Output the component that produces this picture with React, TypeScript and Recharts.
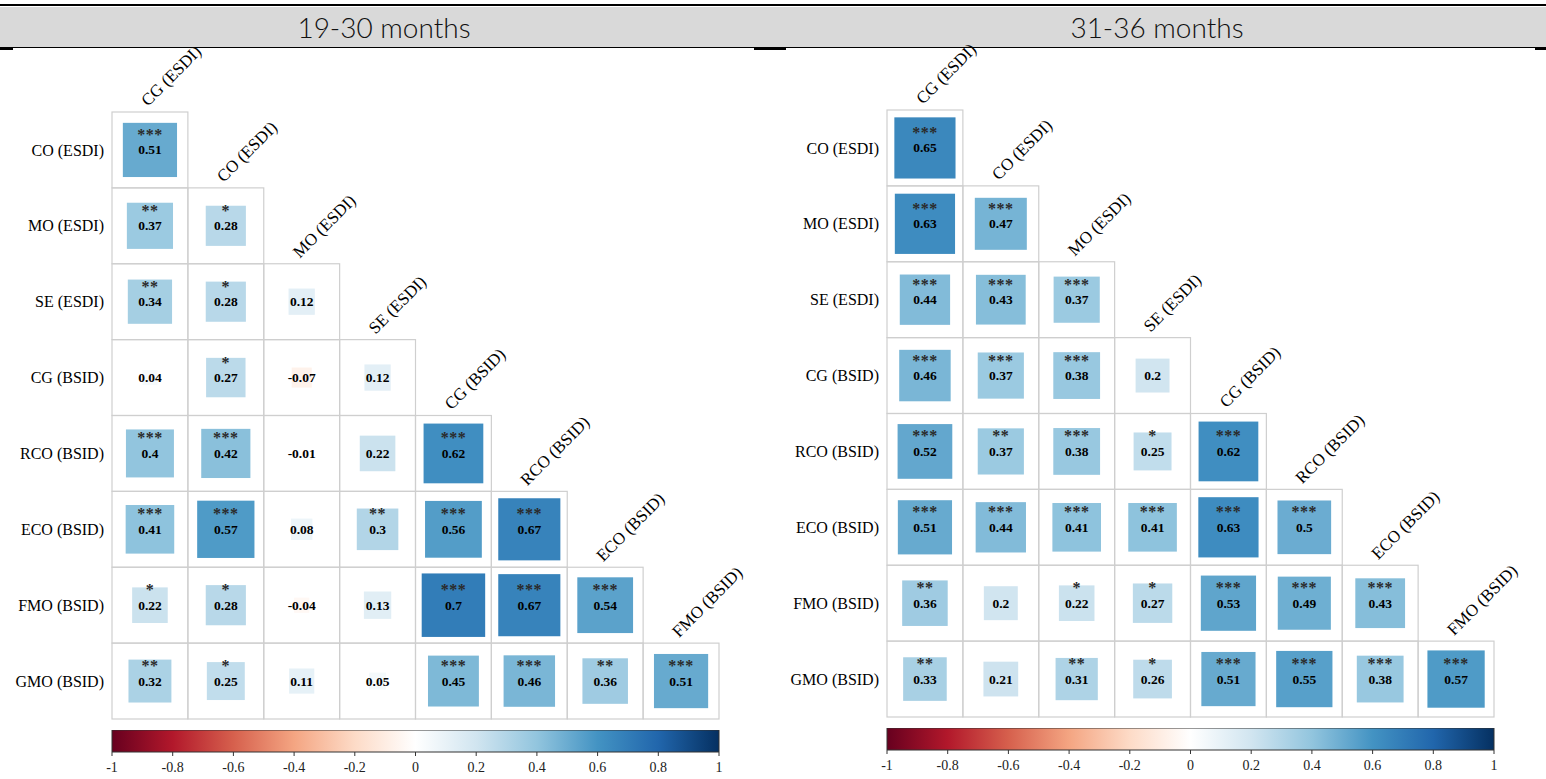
import React from 'react';
import { ScatterChart, Scatter, XAxis, YAxis, BarChart, Bar } from 'recharts';

const ROW_LABELS = ['CO (ESDI)', 'MO (ESDI)', 'SE (ESDI)', 'CG (BSID)', 'RCO (BSID)', 'ECO (BSID)', 'FMO (BSID)', 'GMO (BSID)'];
const COL_LABELS = ['CG (ESDI)', 'CO (ESDI)', 'MO (ESDI)', 'SE (ESDI)', 'CG (BSID)', 'RCO (BSID)', 'ECO (BSID)', 'FMO (BSID)'];
const GRID_TICKS = [0, 1, 2, 3, 4, 5, 6, 7];

// lower triangle, one row per ROW_LABELS entry
const R_19_30 = [
  [0.51],
  [0.37, 0.28],
  [0.34, 0.28, 0.12],
  [0.04, 0.27, -0.07, 0.12],
  [0.4, 0.42, -0.01, 0.22, 0.62],
  [0.41, 0.57, 0.08, 0.3, 0.56, 0.67],
  [0.22, 0.28, -0.04, 0.13, 0.7, 0.67, 0.54],
  [0.32, 0.25, 0.11, 0.05, 0.45, 0.46, 0.36, 0.51],
];
const SIG_19_30 = [
  [3],
  [2, 1],
  [2, 1, 0],
  [0, 1, 0, 0],
  [3, 3, 0, 0, 3],
  [3, 3, 0, 2, 3, 3],
  [1, 1, 0, 0, 3, 3, 3],
  [2, 1, 0, 0, 3, 3, 2, 3],
];

const R_31_36 = [
  [0.65],
  [0.63, 0.47],
  [0.44, 0.43, 0.37],
  [0.46, 0.37, 0.38, 0.2],
  [0.52, 0.37, 0.38, 0.25, 0.62],
  [0.51, 0.44, 0.41, 0.41, 0.63, 0.5],
  [0.36, 0.2, 0.22, 0.27, 0.53, 0.49, 0.43],
  [0.33, 0.21, 0.31, 0.26, 0.51, 0.55, 0.38, 0.57],
];
const SIG_31_36 = [
  [3],
  [3, 3],
  [3, 3, 3],
  [3, 3, 3, 0],
  [3, 2, 3, 1, 3],
  [3, 3, 3, 3, 3, 3],
  [2, 0, 1, 1, 3, 3, 3],
  [2, 0, 2, 1, 3, 3, 3, 3],
];

const CB_TICKS = [-1, -0.8, -0.6, -0.4, -0.2, 0, 0.2, 0.4, 0.6, 0.8, 1];
const CB_DATA = [{ name: 'scale', range: [-1, 1] }];

const PALETTE = ['#67001F', '#B2182B', '#D6604D', '#F4A582', '#FDDBC7', '#FFFFFF', '#D1E5F0', '#92C5DE', '#4393C3', '#2166AC', '#053061'];

const PLOT = 607;
const CELL = PLOT / 8;
const SERIF = '"Liberation Serif", "Times New Roman", serif';

const hexRgb = (h: string) => [1, 3, 5].map((i) => parseInt(h.slice(i, i + 2), 16));

function corrColor(v: number) {
  const p = ((v + 1) / 2) * (PALETTE.length - 1);
  const i = Math.min(Math.floor(p), PALETTE.length - 2);
  const t = p - i;
  const a = hexRgb(PALETTE[i]);
  const b = hexRgb(PALETTE[i + 1]);
  return `rgb(${a.map((c, k) => Math.round(c + (b[k] - c) * t)).join(',')})`;
}

const toCells = (r: number[][], sig: number[][]) =>
  r.flatMap((row, i) => row.map((v, j) => ({ x: j, y: i, r: v, sig: sig[i][j] })));

const renderCell = (props: any) => {
  const { cx, cy, payload } = props;
  const side = CELL * Math.sqrt(Math.abs(payload.r));
  return (
    <g>
      <rect x={cx - CELL / 2} y={cy - CELL / 2} width={CELL} height={CELL} fill="none" stroke="#cfcfcf" strokeWidth={1.2} />
      <rect x={cx - side / 2} y={cy - side / 2} width={side} height={side} fill={corrColor(payload.r)} />
      {payload.sig > 0 && (
        <text x={cx} y={cy - 10} textAnchor="middle" fontFamily={SERIF} fontWeight="bold" fontSize={16} letterSpacing={0.5} fill="#2a2a2a">
          {'*'.repeat(payload.sig)}
        </text>
      )}
      <text x={cx} y={cy + 4.5} textAnchor="middle" fontFamily={SERIF} fontWeight="bold" fontSize={13.5} fill="#000">
        {String(payload.r)}
      </text>
    </g>
  );
};

const ColTick = (props: any) => {
  const { x, y, payload } = props;
  const ty = y + payload.value * CELL - 5;
  const tx = x - 2;
  return (
    <text x={tx} y={ty} transform={`rotate(-45 ${tx} ${ty})`} textAnchor="start" fontFamily={SERIF} fontSize={17} fill="#000">
      {COL_LABELS[payload.value]}
    </text>
  );
};

function CorrPanel({ cells, left, top }: { cells: any[]; left: number; top: number }) {
  return (
    <>
      <div style={{ position: 'absolute', left: left - 112, top: 0 }}>
        <ScatterChart width={770} height={779} margin={{ top: top - 40, left: 4, right: 51, bottom: 779 - top - PLOT }}>
          <XAxis
            type="number"
            dataKey="x"
            orientation="top"
            domain={[-0.5, 7.5]}
            ticks={GRID_TICKS}
            interval={0}
            height={40}
            axisLine={false}
            tickLine={false}
            tickSize={0}
            tickMargin={0}
            tick={<ColTick />}
          />
          <YAxis
            type="number"
            dataKey="y"
            domain={[-0.5, 7.5]}
            reversed
            ticks={GRID_TICKS}
            interval={0}
            width={108}
            axisLine={false}
            tickLine={false}
            tickSize={0}
            tickMargin={8}
            tickFormatter={(v: number) => ROW_LABELS[v]}
            tick={{ fontFamily: SERIF, fontSize: 16, fill: '#000' }}
          />
          <Scatter data={cells} shape={renderCell} isAnimationActive={false} />
        </ScatterChart>
      </div>
      <div style={{ position: 'absolute', left: left - 20, top: top + PLOT + 11 }}>
        <BarChart layout="vertical" width={PLOT + 40} height={50} data={CB_DATA} margin={{ top: 0, left: 20, right: 20, bottom: 0 }} barCategoryGap={0}>
          <XAxis
            type="number"
            domain={[-1, 1]}
            ticks={CB_TICKS}
            interval={0}
            height={28}
            axisLine={false}
            tickLine={{ stroke: '#333' }}
            tickSize={4}
            tickMargin={6}
            tickFormatter={(v: number) => String(v)}
            tick={{ fontFamily: SERIF, fontSize: 14, fill: '#222' }}
          />
          <YAxis type="category" dataKey="name" hide />
          <Bar dataKey="range" fill="url(#cbGrad)" stroke="#333" strokeWidth={1} isAnimationActive={false} />
        </BarChart>
      </div>
    </>
  );
}

const headerText: React.CSSProperties = {
  position: 'absolute',
  top: 7,
  height: 40,
  display: 'flex',
  alignItems: 'center',
  justifyContent: 'center',
  fontFamily: 'Lato, "Open Sans", sans-serif',
  fontWeight: 300,
  fontSize: 28,
  color: '#111',
};

export default function App() {
  return (
    <div style={{ position: 'absolute', left: 0, top: 0, width: 1546, height: 779, background: '#fff', overflow: 'hidden' }}>
      <svg width={0} height={0} style={{ position: 'absolute' }}>
        <defs>
          <linearGradient id="cbGrad" x1="0" y1="0" x2="1" y2="0">
            {PALETTE.map((c, i) => (
              <stop key={c} offset={i / (PALETTE.length - 1)} stopColor={c} />
            ))}
          </linearGradient>
        </defs>
      </svg>
      <div style={{ position: 'absolute', left: 0, top: 4, width: 1546, height: 2, background: '#000' }} />
      <div style={{ position: 'absolute', left: 0, top: 7, width: 1546, height: 40, background: '#d9d9d9' }} />
      <div style={{ position: 'absolute', left: 0, top: 47, width: 1546, height: 1, background: '#000' }} />
      <div style={{ position: 'absolute', left: 0, top: 47, width: 13, height: 3, background: '#000' }} />
      <div style={{ position: 'absolute', left: 754, top: 47, width: 32, height: 3, background: '#000' }} />
      <div style={{ position: 'absolute', left: 1535, top: 47, width: 11, height: 3, background: '#000' }} />
      <div style={{ ...headerText, left: 0, width: 768 }}>19-30 months</div>
      <div style={{ ...headerText, left: 768, width: 778 }}>31-36 months</div>
      <CorrPanel cells={toCells(R_19_30, SIG_19_30)} left={112} top={112} />
      <CorrPanel cells={toCells(R_31_36, SIG_31_36)} left={887} top={110} />
    </div>
  );
}
